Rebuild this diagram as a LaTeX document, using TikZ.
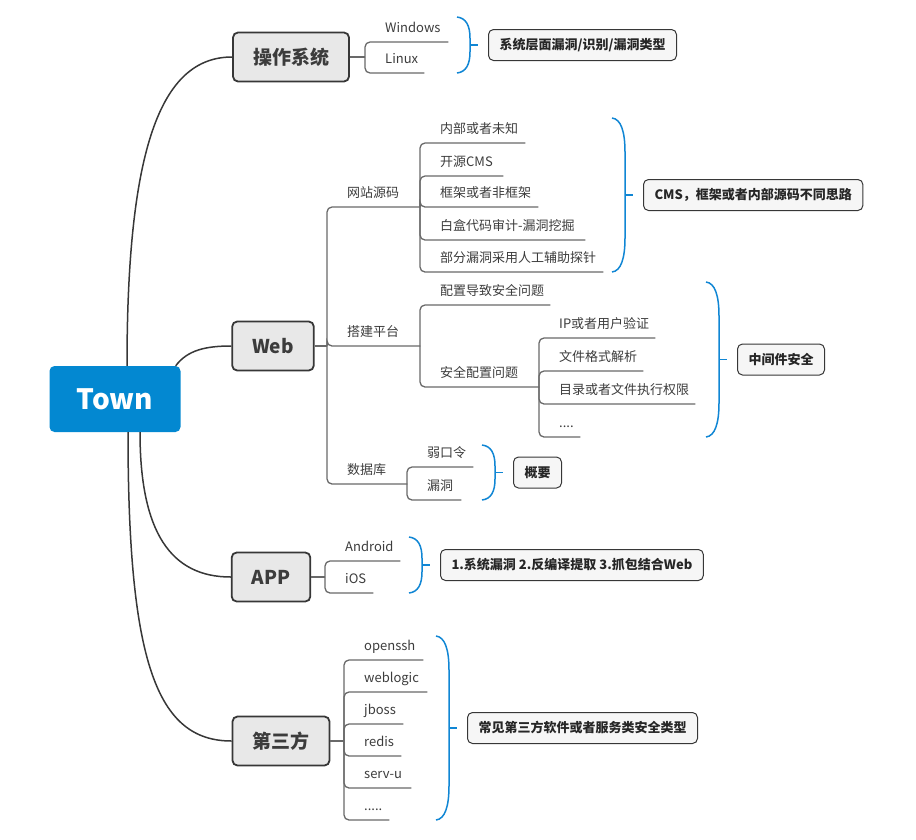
\documentclass[tikz,border=0pt]{standalone}
\usepackage{fontspec}
\setmainfont{Noto Sans CJK SC}
\usepackage{xcolor}
\usepackage{tikz}
\usetikzlibrary{positioning}
\definecolor{townblue}{RGB}{3,136,209}
\definecolor{nodegray}{RGB}{232,232,232}
\definecolor{boxgray}{RGB}{246,246,246}
\definecolor{topicline}{RGB}{55,55,55}
\definecolor{linegray}{RGB}{105,105,105}
\definecolor{textgray}{RGB}{60,60,60}
\definecolor{braceblue}{RGB}{16,134,212}
% blue summary brace: x, top, bottom, name of the tick end
\newcommand{\sumbrace}[4]{%
  \pgfmathsetmacro\bcurve{min(34,0.38*(#3-#2))}
  \draw[bracestyle] (#1,#2) .. controls +(9,1) and +(0,-0.6*\bcurve) .. ({#1+13},{#2+\bcurve})
    -- ({#1+13},{#3-\bcurve}) .. controls +(0,0.6*\bcurve) and +(9,-1) .. (#1,#3);
  \draw[bracestyle] ({#1+13},{(#2+#3)/2}) -- ++(8,0) coordinate (#4);}

\begin{document}
\begin{tikzpicture}[x=1pt,y=-1pt,
  every node/.style={text=textgray},
  root/.style={fill=townblue, rounded corners=5pt, minimum width=131pt, minimum height=66pt, text=white, font=\fontsize{28}{30}\selectfont\bfseries},
  topic/.style={draw=topicline, line width=1.8pt, fill=nodegray, rounded corners=5pt, minimum height=49pt, inner xsep=20pt, font=\fontsize{19}{22}\selectfont\bfseries},
  leaf/.style={anchor=south west, inner xsep=0pt, inner ysep=6pt, text height=10pt, text depth=3pt, font=\fontsize{13}{15}\selectfont},
  sumbox/.style={draw=topicline, line width=1pt, fill=boxgray, rounded corners=5pt, minimum height=31pt, inner xsep=11pt, text=black!85, font=\fontsize{13}{15}\selectfont\bfseries},
  branch/.style={draw=topicline, line width=1.5pt},
  uline/.style={draw=linegray, line width=1.3pt, rounded corners=5pt},
  bracestyle/.style={draw=braceblue, line width=1.5pt}]
  \useasboundingbox (0,0) rectangle (916,839);

  % root and main topics
  \node[root] (town) at (115,399) {Town};
  \node[topic] (os) at (291,57) {操作系统};
  \node[topic] (web) at (273,346) {Web};
  \node[topic] (app) at (271,577) {APP};
  \node[topic] (third) at (281,741) {第三方};

  \draw[branch] ([xshift=12pt]town.north) .. controls +(0,-216) and +(-72,0) .. (os.west);
  \draw[branch] ([xshift=-5pt]town.north east) .. controls +(12,-16) and +(-25,0) .. (web.west);
  \draw[branch] ([xshift=25pt]town.south) .. controls +(0,100) and +(-60,0) .. (app.west);
  \draw[branch] ([xshift=13pt]town.south) .. controls +(0,230) and +(-75,0) .. (third.west);

  % 操作系统
  \coordinate (osj) at (365,57);
  \draw[uline] (os.east) -- (osj);
  \foreach \t/\y/\w/\n in {Windows/42/83/win, Linux/73/59/linux}{
    \node[leaf] (\n) at (365,\y) {\makebox[\w pt][l]{\hspace{20pt}\t}};
    \draw[uline] (osj) |- (\n.south east);
  }
  \sumbrace{457}{17}{73}{ostick}
  \node[sumbox, right=10pt of ostick] (ossum) {系统层面漏洞/识别/漏洞类型};

  % Web
  \coordinate (webj) at (327,346);
  \draw[uline] (web.east) -- (webj);
  \foreach \t/\y/\w/\n in {网站源码/207/93/site, 搭建平台/346/93/build, 数据库/484/80/db}{
    \node[leaf] (\n) at (327,\y) {\makebox[\w pt][l]{\hspace{20pt}\t}};
    \draw[uline] (webj) |- (\n.south east);
  }

  \coordinate (sitej) at (420,207);
  \foreach \t/\y/\w/\n in {内部或者未知/143/105/site1, 开源CMS/176/83/site2, 框架或者非框架/207/118/site3,
      白盒代码审计-漏洞挖掘/240/165/site4, 部分漏洞采用人工辅助探针/272/183/site5}{
    \node[leaf] (\n) at (420,\y) {\makebox[\w pt][l]{\hspace{20pt}\t}};
    \draw[uline] (sitej) |- (\n.south east);
  }
  \sumbrace{612}{118}{272}{sitetick}
  \node[sumbox, right=10pt of sitetick] (sitesum) {CMS，框架或者内部源码不同思路};

  \coordinate (buildj) at (420,346);
  \foreach \t/\y/\w/\n in {配置导致安全问题/305/130/build1, 安全配置问题/387/119/build2}{
    \node[leaf] (\n) at (420,\y) {\makebox[\w pt][l]{\hspace{20pt}\t}};
    \draw[uline] (buildj) |- (\n.south east);
  }
  \coordinate (confj) at (539,387);
  \foreach \t/\y/\w/\n in {IP或者用户验证/338/116/conf1, 文件格式解析/371/104/conf2,
      目录或者文件执行权限/404/156/conf3, {.}{.}{.}{.}/437/41/conf4}{
    \node[leaf] (\n) at (539,\y) {\makebox[\w pt][l]{\hspace{20pt}\t}};
    \draw[uline] (confj) |- (\n.south east);
  }
  \sumbrace{706}{282}{437}{midtick}
  \node[sumbox, right=10pt of midtick] (midsum) {中间件安全};

  \coordinate (dbj) at (407,484);
  \foreach \t/\y/\w/\n in {弱口令/467/66/db1, 漏洞/500/54/db2}{
    \node[leaf] (\n) at (407,\y) {\makebox[\w pt][l]{\hspace{20pt}\t}};
    \draw[uline] (dbj) |- (\n.south east);
  }
  \sumbrace{482}{445}{500}{dbtick}
  \node[sumbox, right=10pt of dbtick] (dbsum) {概要};

  % APP
  \coordinate (appj) at (325,577);
  \draw[uline] (app.east) -- (appj);
  \foreach \t/\y/\w/\n in {Android/561/75/andr, iOS/593/48/ios}{
    \node[leaf] (\n) at (325,\y) {\makebox[\w pt][l]{\hspace{20pt}\t}};
    \draw[uline] (appj) |- (\n.south east);
  }
  \sumbrace{409}{537}{593}{apptick}
  \node[sumbox, right=10pt of apptick] (appsum) {1.系统漏洞 2.反编译提取 3.抓包结合Web};

  % 第三方
  \coordinate (thirdj) at (344,741);
  \draw[uline] (third.east) -- (thirdj);
  \foreach \t/\y/\w/\n in {openssh/660/79/sw1, weblogic/692/83/sw2, jboss/724/59/sw3,
      redis/756/57/sw4, serv-u/788/67/sw5, {.}{.}{.}{.}{.}/820/45/sw6}{
    \node[leaf] (\n) at (344,\y) {\makebox[\w pt][l]{\hspace{20pt}\t}};
    \draw[uline] (thirdj) |- (\n.south east);
  }
  \sumbrace{436}{636}{820}{thirdtick}
  \node[sumbox, right=10pt of thirdtick] (thirdsum) {常见第三方软件或者服务类安全类型};
\end{tikzpicture}
\end{document}
